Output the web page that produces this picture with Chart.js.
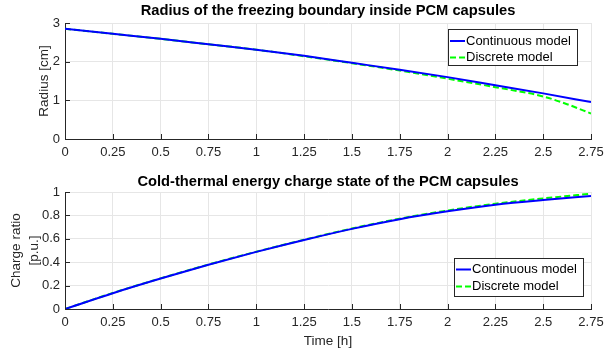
<!DOCTYPE html>
<html><head><meta charset="utf-8">
<script src="https://cdn.jsdelivr.net/npm/chart.js@4/dist/chart.umd.min.js"></script>
<style>
html,body{margin:0;padding:0;background:#fff;}
#w1{position:absolute;left:0;top:0;width:606px;height:170px;}
#w2{position:absolute;left:0;top:170px;width:606px;height:183px;}
</style></head><body>
<div id="w1"><canvas id="c1"></canvas></div>
<div id="w2"><canvas id="c2"></canvas></div>
<script>
// ---- data ----
const xTicks = [0,0.25,0.5,0.75,1,1.25,1.5,1.75,2,2.25,2.5,2.75];
const xTickLabels = ["0","0.25","0.5","0.75","1","1.25","1.5","1.75","2","2.25","2.5","2.75"];
const radiusTicks = [0,1,2,3];
const chargeTicks = [0,0.2,0.4,0.6,0.8,1];
const chargeTickLabels = ["0","0.2","0.4","0.6","0.8","1"];

const timeCont = [0,0.25,0.5,0.75,1,1.25,1.5,1.75,2,2.25,2.5,2.75];
const radiusCont = [2.85,2.72,2.59,2.45,2.31,2.15,1.97,1.79,1.60,1.39,1.18,0.955];
const timeDiscR = [0,0.25,0.5,0.75,1,1.25,1.5,1.75,2,2.25,2.5,2.625,2.75];
const radiusDisc = [2.85,2.72,2.59,2.45,2.31,2.14,1.96,1.77,1.56,1.34,1.10,0.90,0.66];

const timeDiscC = [0,0.25,0.5,0.75,1,1.25,1.5,1.75,2,2.25,2.5,2.75];
const chargeCont = [0,0.135,0.26,0.378,0.488,0.59,0.685,0.768,0.835,0.892,0.932,0.965];
const chargeDisc = [0,0.137,0.262,0.38,0.49,0.592,0.688,0.772,0.842,0.9,0.945,0.985];

const labels = ["Continuous model","Discrete model"];
const titles = ["Radius of the freezing boundary inside PCM capsules","Cold-thermal energy charge state of the PCM capsules"];
// ---- end data ----

const FONT = "'Liberation Sans', Arial, Helvetica, sans-serif";
const TXT = '#262626';
Chart.defaults.font.family = FONT;
Chart.defaults.animation = false;

function pts(xs, ys){ return xs.map((x,i)=>({x:x,y:ys[i]})); }

function decorPlugin(opt){
  return {
    id:'decor',
    afterDraw(chart){
      const ctx = chart.ctx, a = chart.chartArea;
      const xs = chart.scales.x, ys = chart.scales.y;
      ctx.save();
      // inward ticks
      ctx.strokeStyle = TXT; ctx.lineWidth = 1;
      ctx.beginPath();
      xs.ticks.forEach(t=>{ const px = Math.round(xs.getPixelForValue(t.value))+0.5; ctx.moveTo(px,a.bottom); ctx.lineTo(px,a.bottom-5); });
      ys.ticks.forEach(t=>{ const py = Math.round(ys.getPixelForValue(t.value))+0.5; ctx.moveTo(a.left,py); ctx.lineTo(a.left+5,py); });
      ctx.stroke();
      // title
      ctx.fillStyle = '#000';
      ctx.font = "bold 14.7px " + FONT;
      ctx.textAlign='center'; ctx.textBaseline='middle';
      ctx.fillText(opt.title, (a.left+a.right)/2, opt.titleY);
      // y title
      ctx.fillStyle = TXT;
      ctx.font = "13.5px " + FONT;
      opt.ylab.forEach((s,i)=>{
        ctx.save();
        ctx.translate(opt.ylabX[i], (a.top+a.bottom)/2);
        ctx.rotate(-Math.PI/2);
        ctx.fillText(s,0,0);
        ctx.restore();
      });
      if(opt.xlab){ ctx.fillText(opt.xlab,(a.left+a.right)/2, opt.xlabY); }
      // legend
      const L = opt.legend;
      ctx.fillStyle='#fff';
      ctx.fillRect(L.x,L.y,L.w,L.h);
      ctx.strokeStyle='#262626'; ctx.lineWidth=1;
      ctx.strokeRect(L.x+0.5,L.y+0.5,L.w-1,L.h-1);
      chart.data.datasets.forEach((ds,i)=>{
        const yy = L.rows[i];
        ctx.strokeStyle = ds.borderColor; ctx.lineWidth = 2;
        ctx.setLineDash(ds.borderDash||[]);
        ctx.beginPath(); ctx.moveTo(L.x+2,yy); ctx.lineTo(L.x+17,yy); ctx.stroke();
        ctx.setLineDash([]);
        ctx.fillStyle='#000'; ctx.textAlign='left'; ctx.font="13px "+FONT;
        ctx.fillText(ds.label, L.x+18, yy);
      });
      ctx.restore();
    }
  };
}

function makeChart(id, d1, d2, yTicks, yLabels, yMax, padTop, xH, opt){
  return new Chart(document.getElementById(id), {
    type:'line',
    data:{datasets:[
      {label:labels[0], data:d1, borderColor:'#0000ff', borderWidth:2, pointRadius:0, cubicInterpolationMode:'monotone', fill:false},
      {label:labels[1], data:d2, borderColor:'#00ff00', borderWidth:2, borderDash:[6,3], pointRadius:0, cubicInterpolationMode:'monotone', fill:false}
    ]},
    options:{
      responsive:true, maintainAspectRatio:false, animation:false,
      layout:{padding:{top:padTop,right:15,left:0,bottom:0}},
      plugins:{legend:{display:false},tooltip:{enabled:false}},
      scales:{
        x:{type:'linear',min:0,max:2.75,
          afterBuildTicks(s){ s.ticks = xTicks.map(v=>({value:v})); },
          afterFit(s){ s.height = xH; s.paddingLeft = 0; s.paddingRight = 0; },
          ticks:{color:TXT,font:{size:13,family:FONT},padding:6,maxRotation:0,autoSkip:false,
            callback(v){ const i = xTicks.indexOf(v); return i>=0 ? xTickLabels[i] : ''; }},
          grid:{color:'#e6e6e6',drawTicks:false},
          border:{color:TXT,width:1}
        },
        y:{type:'linear',min:0,max:yMax,
          afterBuildTicks(s){ s.ticks = yTicks.map(v=>({value:v})); },
          afterFit(s){ s.width = 65; s.paddingTop = 0; s.paddingBottom = 0; },
          ticks:{color:TXT,font:{size:13,family:FONT},padding:5,autoSkip:false,
            callback(v){ const i = yTicks.indexOf(v); return i>=0 ? yLabels[i] : ''; }},
          grid:{color:'#e6e6e6',drawTicks:false},
          border:{color:TXT,width:1}
        }
      }
    },
    plugins:[decorPlugin(opt)]
  });
}

makeChart('c1', pts(timeCont,radiusCont), pts(timeDiscR,radiusDisc), radiusTicks, radiusTicks.map(String), 3, 23, 31, {
  title:titles[0], titleY:11, ylab:["Radius [cm]"], ylabX:[44],
  legend:{x:448,y:29,w:130,h:37,rows:[41,57.5]}
});
makeChart('c2', pts(timeCont,chargeCont), pts(timeDiscC,chargeDisc), chargeTicks, chargeTickLabels, 1, 22, 44, {
  title:titles[1], titleY:12, ylab:["Charge ratio","[p.u.]"], ylabX:[16,34],
  xlab:"Time [h]", xlabY:171,
  legend:{x:454,y:88,w:130,h:39,rows:[99.5,116.5]}
});
</script>
</body></html>
